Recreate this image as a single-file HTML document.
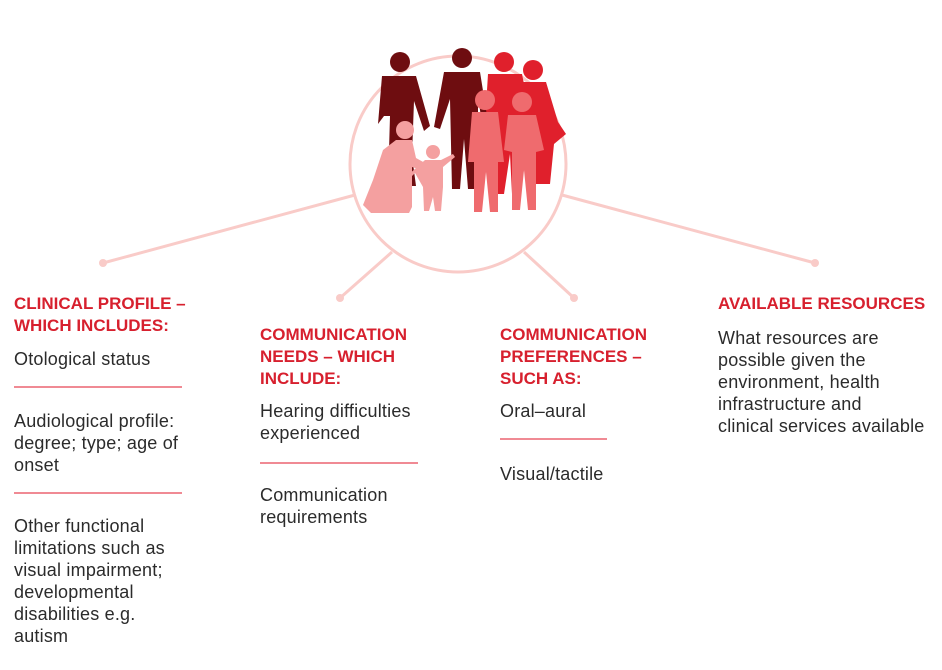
<!DOCTYPE html>
<html><head><meta charset="utf-8"><style>
body{margin:0;width:942px;height:670px;background:#fff;position:relative;overflow:hidden;font-family:"Liberation Sans",sans-serif}
.t{position:absolute;font-size:18px;letter-spacing:0.2px;line-height:22px;color:#2b2b2b;white-space:nowrap}
.h{position:absolute;font-size:17px;letter-spacing:0px;line-height:22px;color:#d7202e;font-weight:bold;white-space:nowrap}
.d{position:absolute;height:2px;background:#f08a94}
</style></head><body>
<svg width="942" height="670" style="position:absolute;left:0;top:0">
<g stroke="#f9cbc8" stroke-width="3" fill="none">
<circle cx="458" cy="164" r="108"/>
<line x1="103" y1="263" x2="355" y2="195"/>
<line x1="815" y1="263" x2="562" y2="195"/>
<line x1="340" y1="298" x2="392" y2="252"/>
<line x1="574" y1="298" x2="524" y2="252"/>
</g>
<g fill="#f9cbc8"><circle cx="103" cy="263" r="4"/><circle cx="815" cy="263" r="4"/><circle cx="340" cy="298" r="4"/><circle cx="574" cy="298" r="4"/></g>
<g fill="#e0202c">
<circle cx="504" cy="62" r="10"/><path d="M488 74h34l8 40-6 55-4 25h-8l-2-40-6 40h-8l-4-60-8 5z"/>
<circle cx="533" cy="70" r="10"/><path d="M520 82h26l12 40 8 12-12 10-4 40h-14l-4-50-10-10z"/>
</g>
<g fill="#6e0d10">
<circle cx="400" cy="62" r="10"/><path d="M384 76h32l14 50-6 5-10-30-2 55 4 30h-8l-6-40-4 40h-10l2-70-6 0-6 8 4-48z"/>
<circle cx="462" cy="58" r="10"/><path d="M444 72h36l8 50-6 2-4-28 0 65-2 28h-8l-4-50-4 50h-8l-2-90-10 30-6-2z"/>
</g>
<g fill="#ef6b6e">
<circle cx="485" cy="100" r="10"/><path d="M472 112h26l6 50-6 0v50h-8l-4-40-4 40h-8v-50h-6z"/>
<circle cx="522" cy="102" r="10"/><path d="M508 115h28l8 35-8 2v58h-8l-4-40-4 40h-8v-58l-8-2z"/>
</g>
<g fill="#f4a0a0">
<circle cx="405" cy="130" r="9"/><path d="M396 140h16l4 18 18 10-2 5-20-6v40l-3 6h-38l-8-8 10-25 10-30z"/>
<circle cx="433" cy="152" r="7"/><path d="M425 160h16l12-6 2 3-12 10v20l-2 24h-6l-2-14-4 14h-5l-1-24-8-14-6 6-2-3z"/>
</g>
</svg>
<div class="h" style="left:14px;top:293px">CLINICAL PROFILE –<br>WHICH INCLUDES:</div>
<div class="t" style="left:14px;top:348px">Otological status</div>
<div class="d" style="left:14px;top:386px;width:168px"></div>
<div class="t" style="left:14px;top:410px">Audiological profile:<br>degree; type; age of<br>onset</div>
<div class="d" style="left:14px;top:492px;width:168px"></div>
<div class="t" style="left:14px;top:515px">Other functional<br>limitations such as<br>visual impairment;<br>developmental<br>disabilities e.g.<br>autism</div>
<div class="h" style="left:260px;top:324px">COMMUNICATION<br>NEEDS – WHICH<br>INCLUDE:</div>
<div class="t" style="left:260px;top:400px">Hearing difficulties<br>experienced</div>
<div class="d" style="left:260px;top:462px;width:158px"></div>
<div class="t" style="left:260px;top:484px">Communication<br>requirements</div>
<div class="h" style="left:500px;top:324px">COMMUNICATION<br>PREFERENCES –<br>SUCH AS:</div>
<div class="t" style="left:500px;top:400px">Oral–aural</div>
<div class="d" style="left:500px;top:438px;width:107px"></div>
<div class="t" style="left:500px;top:463px">Visual/tactile</div>
<div class="h" style="left:718px;top:293px">AVAILABLE RESOURCES</div>
<div class="t" style="left:718px;top:327px">What resources are<br>possible given the<br>environment, health<br>infrastructure and<br>clinical services available</div>
</body></html>
